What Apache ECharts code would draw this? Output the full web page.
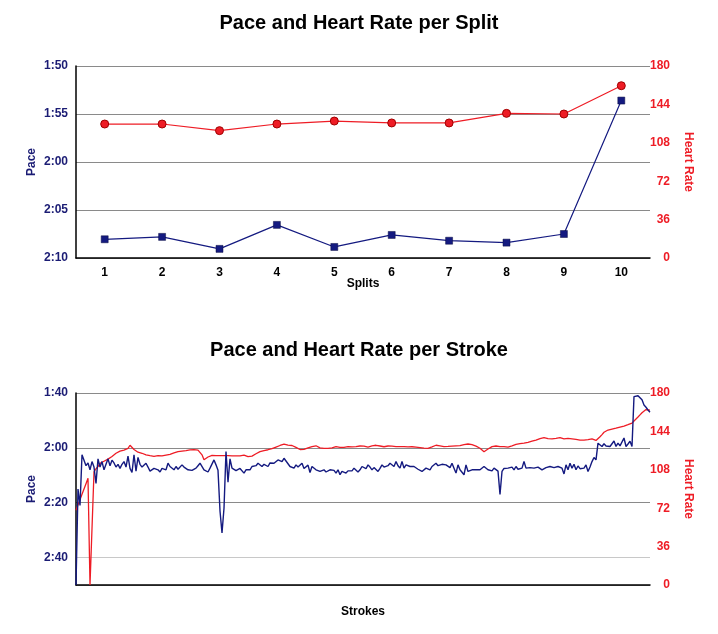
<!DOCTYPE html>
<html>
<head>
<meta charset="utf-8">
<script src="https://cdn.jsdelivr.net/npm/echarts@6/dist/echarts.min.js"></script>
<style>
html,body{margin:0;padding:0;background:#fff;}
#chart{width:718px;height:634px;}
</style>
</head>
<body>
<div id="chart"></div>
<script>
// ---- Data ----
const titleSplit = 'Pace and Heart Rate per Split';
const titleStroke = 'Pace and Heart Rate per Stroke';
const splitCategories = ['1','2','3','4','5','6','7','8','9','10'];
// pace in seconds per 500m
const splitPace = [128.05, 127.8, 129.05, 126.55, 128.85, 127.6, 128.2, 128.4, 127.5, 113.6];
const splitHeartRate = [125.6, 125.6, 119.4, 125.6, 128.4, 126.6, 126.6, 135.6, 135, 161.5];

const strokePace = [
170, 135, 141, 122.5, 124.5, 126.5, 125.5, 128, 125, 127,
133, 124, 127, 125, 128, 126, 124, 126.5, 124.5, 125.5,
127, 126, 127.5, 126, 125, 127, 123, 127.5, 129, 122.5,
128.5, 123.5, 126, 127, 127.5, 125.6, 127, 128.5, 128.8, 127.5,
127.4, 128, 128.8, 127.5, 126.8, 128, 125.6, 126.8, 127.5, 128,
126.8, 127.8, 127.4, 126.2, 127, 127.4, 128, 127.5, 128.2, 127.8,
127.4, 126.5, 125.6, 126.2, 128, 128.5, 128.8, 127.4, 127.8, 124.4,
126.2, 128.2, 143, 151, 142, 121.3, 132.5, 124, 127.4, 128,
128.3, 128.6, 127.5, 127.4, 129.2, 128, 128.5, 128, 126.8, 126.2,
126.5, 125.6, 126.2, 126.8, 126, 126.2, 126.8, 125.5, 125, 125.6,
125.2, 124.4, 125, 125, 123.8, 124.8, 125, 126.8, 127, 127.4,
126.2, 127, 127.4, 125.6, 127.5, 128, 126.3, 129, 126.8, 127.4,
128, 127.6, 128.6, 128.2, 128, 128.8, 128.4, 128, 128.6, 128.2,
129.2, 128, 129.8, 128.6, 129, 129.2, 128.4, 128.8, 128.4, 127.4,
128, 128.8, 128, 126.8, 127.2, 127.6, 126.2, 127, 128, 127.2,
126.8, 128.6, 127.5, 126.2, 127, 127.4, 126.5, 125.6, 126.3, 126.8,
125, 126.5, 127.4, 125, 127.4, 126.2, 126.5, 126.8, 126.2, 126.8,
127.4, 127.8, 128, 128.6, 128, 127.4, 127.8, 128, 126.8, 127,
125.6, 126.5, 126.8, 126, 125.6, 126.2, 126.2, 127.2, 125.6, 127.4,
129.2, 126.2, 128, 127.4, 129.8, 126.2, 128.6, 128.3, 128, 127.4,
128, 128.4, 128, 127.6, 126.8, 127.5, 128, 128.2, 128.4, 127.4,
127.8, 128.5, 137, 128.6, 127.5, 126.8, 127.4, 127.6, 127, 128,
126.8, 127.8, 128, 127.4, 125, 127.4, 127.4, 127.2, 127.4, 127.4,
127.4, 127, 126.8, 128, 127.6, 127.2, 127, 126.8, 127.4, 127.2,
127.2, 126.8, 127, 127.4, 129.5, 126.2, 128, 125.6, 127.4, 126,
128, 126.6, 127.6, 128, 127.4, 126.2, 128.6, 127, 125, 123.5,
124.4, 118.3, 118.8, 119.5, 118.5, 119.3, 118.6, 119.5, 119.2, 117.5,
119.5, 118.3, 119.3, 118.8, 116.4, 119.5, 118.6, 117.6, 119.5, 101.3,
101.1, 101, 101.5, 102.5, 104.4, 105.2, 106.2, 107
];

const strokeHeartRate = [
70, 75, 80, 85, 90, 95, 100, 0, 0, 106,
109, 111, 114, 115, 116, 117, 118, 119, 120.5, 122,
123.5, 124.5, 125.5, 126, 126.5, 127, 128, 131, 132.5, 127,
125.5, 124.5, 124, 123.5, 122.5, 122, 121.5, 121.2, 121, 120.5,
121, 121.2, 121, 121, 121.5, 121.8, 122, 122.5, 123, 123.8,
124.5, 125, 125.5, 125.5, 125.8, 126, 126.3, 126.6, 126.8, 127,
127.2, 126.5, 125.5, 122, 117.5, 116.5, 120, 121.5, 121.5, 121,
121.3, 121.5, 121.2, 121, 121.2, 121.5, 121.2, 121, 121, 121.2,
121, 121.2, 121, 121.5, 121.8, 121, 120.3, 120, 120.8, 121.8,
123, 124.5, 125, 125.5, 126, 126.5, 126.8, 127, 127.8, 128.4,
129.3, 130, 130.8, 131.8, 132, 131.5, 131.2, 131, 130.8, 130.6,
129, 128, 127, 126.6, 127.2, 128.1, 128.5, 128.7, 129.7, 131,
130.5, 129, 128.5, 128.2, 128, 128.1, 128.1, 128.3, 128.6, 129.2,
129.7, 129.5, 129, 128.7, 129, 129.3, 129.7, 129.7, 129.5, 129.6,
129.7, 130, 130.3, 130.6, 130.2, 129.5, 129.3, 129.8, 130.5, 131,
131, 130.8, 130.3, 129.8, 129.6, 129.9, 130.3, 130.6, 130.2, 129.9,
129.7, 129.5, 129.7, 129.8, 129.7, 129.6, 129.5, 129.7, 129.6, 129.4,
129.2, 129, 128.8, 128.6, 128.4, 128.2, 128.1, 128.5, 129.5, 130.6,
131, 130.8, 130.5, 130.2, 129.8, 129.7, 129.9, 130, 130.2, 130.3,
130.4, 130.5, 130.6, 131, 131.5, 132, 132.2, 132, 131.5, 131,
130.2, 129.5, 128.2, 126.5, 124.9, 126, 127.5, 128.8, 129.7, 130.2,
130.3, 130, 129.7, 129.6, 129.7, 129.7, 129.3, 130, 130.5, 131.2,
131.8, 132.2, 132.5, 132.8, 133, 133.3, 133.7, 134.2, 134.8, 135.4,
135.9, 136.5, 137.3, 137.8, 138.1, 137.8, 137.3, 136.9, 137, 137.3,
137.5, 137.8, 138.1, 137.5, 136.9, 137.2, 137.5, 137.3, 137, 136.9,
136.5, 136, 135.9, 135.9, 135.9, 136, 136.3, 136.6, 136.9, 135.2,
135.5, 136.5, 139, 141, 143.2, 144.5, 145.3, 145.8, 146.2, 146.7,
147, 147.5, 148, 148.5, 149, 149.6, 150.3, 151, 151.8, 153.8,
155.5, 157.5, 159.5, 161.5, 163, 164.5, 165, 164
];
const strokeCategories = strokePace.map((_, i) => String(i + 1));

// ---- Styling ----
const NAVY = '#1b1c74';
const NAVY_LINE = '#141a80';
const RED = '#ee1c25';
const FONT = '"Liberation Sans", Arial, Helvetica, sans-serif';
const GRIDC = '#8a8a8a';

function paceFmt(v) {
  const m = Math.floor(v / 60);
  const s = Math.round(v % 60);
  return m + ':' + String(s).padStart(2, '0');
}

const chart = echarts.init(document.getElementById('chart'), null, {renderer: 'canvas'});

const labelBase = {fontFamily: FONT, fontWeight: 'bold', fontSize: 12};

const option = {
  animation: false,
  backgroundColor: '#fff',
  title: [
    {text: titleSplit, left: 'center', top: 8,
     textStyle: {fontFamily: FONT, fontWeight: 'bold', fontSize: 20, color: '#000'}},
    {text: titleStroke, left: 'center', top: 335,
     textStyle: {fontFamily: FONT, fontWeight: 'bold', fontSize: 20, color: '#000'}}
  ],
  grid: [
    {left: 76, right: 68, top: 66, height: 192},
    {left: 76, right: 68, top: 393, height: 192}
  ],
  xAxis: [
    {gridIndex: 0, type: 'category', data: splitCategories, boundaryGap: true,
     name: 'Splits', nameLocation: 'middle', nameGap: 20, nameMoveOverlap: false,
     nameTextStyle: Object.assign({color: '#000'}, labelBase),
     axisLine: {lineStyle: {color: '#000', width: 1.5}},
     axisTick: {show: false},
     axisLabel: Object.assign({color: '#000', margin: 9}, labelBase)},
    {gridIndex: 1, type: 'category', data: strokeCategories, boundaryGap: false,
     name: 'Strokes', nameLocation: 'middle', nameGap: 21, nameMoveOverlap: false,
     nameTextStyle: Object.assign({color: '#000'}, labelBase),
     axisLine: {lineStyle: {color: '#000', width: 1.5}},
     axisTick: {show: false},
     axisLabel: {show: false}}
  ],
  yAxis: [
    {gridIndex: 0, type: 'value', inverse: true, min: 110, max: 130, interval: 5,
     name: 'Pace', nameLocation: 'middle', nameGap: 38, nameRotate: 90, nameMoveOverlap: false,
     nameTextStyle: Object.assign({color: NAVY}, labelBase),
     axisLine: {show: true, lineStyle: {color: '#000', width: 1.5}},
     axisTick: {show: false},
     axisLabel: Object.assign({color: NAVY, margin: 8, formatter: paceFmt}, labelBase),
     splitLine: {show: true, lineStyle: {color: GRIDC, width: 1}}},
    {gridIndex: 0, type: 'value', position: 'right', min: 0, max: 180, interval: 36,
     name: 'Heart Rate', nameLocation: 'middle', nameGap: 32, nameRotate: -90, nameMoveOverlap: false,
     nameTextStyle: Object.assign({color: RED}, labelBase),
     axisLine: {show: false},
     axisTick: {show: false},
     axisLabel: Object.assign({color: RED, margin: 20, align: 'right'}, labelBase),
     splitLine: {show: false}},
    {gridIndex: 1, type: 'value', inverse: true, min: 100, max: 170, interval: 20,
     name: 'Pace', nameLocation: 'middle', nameGap: 38, nameRotate: 90, nameMoveOverlap: false,
     nameTextStyle: Object.assign({color: NAVY}, labelBase),
     axisLine: {show: true, lineStyle: {color: '#000', width: 1.5}},
     axisTick: {show: false},
     axisLabel: Object.assign({color: NAVY, margin: 8,
       formatter: v => (v % 20 === 0 ? paceFmt(v) : '')}, labelBase),
     splitLine: {show: true, lineStyle: {color: [GRIDC, GRIDC, GRIDC, '#c8c8c8', GRIDC], width: 1}}},
    {gridIndex: 1, type: 'value', position: 'right', min: 0, max: 180, interval: 36,
     name: 'Heart Rate', nameLocation: 'middle', nameGap: 32, nameRotate: -90, nameMoveOverlap: false,
     nameTextStyle: Object.assign({color: RED}, labelBase),
     axisLine: {show: false},
     axisTick: {show: false},
     axisLabel: Object.assign({color: RED, margin: 20, align: 'right'}, labelBase),
     splitLine: {show: false}}
  ],
  series: [
    {type: 'line', xAxisIndex: 0, yAxisIndex: 1, data: splitHeartRate,
     symbol: 'circle', symbolSize: 8,
     lineStyle: {color: RED, width: 1.2},
     itemStyle: {color: RED, borderColor: '#a00000', borderWidth: 1}},
    {type: 'line', xAxisIndex: 0, yAxisIndex: 0, data: splitPace,
     symbol: 'rect', symbolSize: 7,
     lineStyle: {color: NAVY_LINE, width: 1.2},
     itemStyle: {color: NAVY_LINE, borderColor: '#0a0d40', borderWidth: 0.5}},
    {type: 'line', xAxisIndex: 1, yAxisIndex: 3, data: strokeHeartRate,
     symbol: 'none', lineStyle: {color: RED, width: 1.3}},
    {type: 'line', xAxisIndex: 1, yAxisIndex: 2, data: strokePace,
     symbol: 'none', lineStyle: {color: NAVY_LINE, width: 1.4}}
  ]
};
chart.setOption(option);
</script>
</body>
</html>
